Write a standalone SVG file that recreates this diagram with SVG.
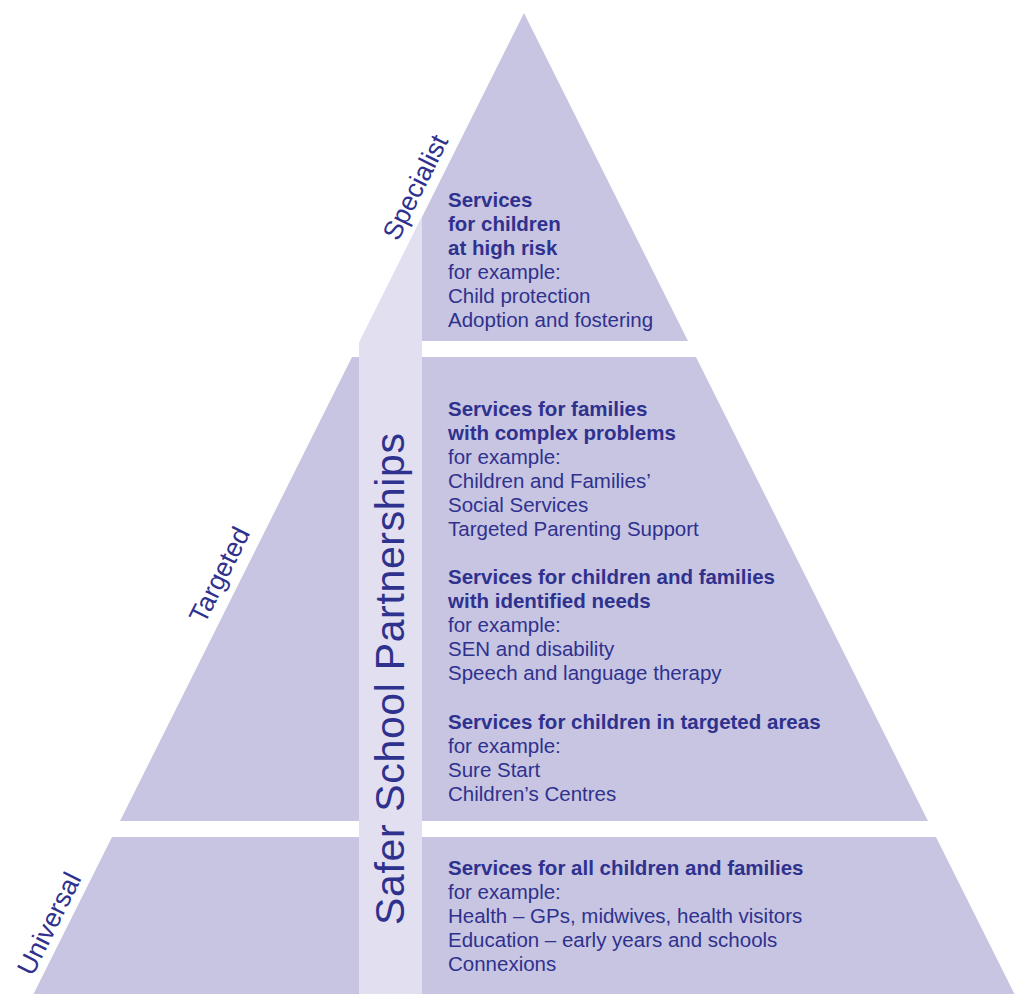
<svg xmlns="http://www.w3.org/2000/svg" width="1017" height="1001" viewBox="0 0 1017 1001">
  <style>
    .tier { fill: #c7c5e1; }
    .band { fill: #e1dff0; }
    text { font-family: "Liberation Sans", Arial, sans-serif; fill: #2f318e; }
    .b { font-size: 20.5px; font-weight: 700; }
    .r { font-size: 20.5px; font-weight: 400; }
    .lbl { font-size: 26.5px; font-weight: 400; }
    .ssp { font-size: 41px; font-weight: 400; }
  </style>
  <rect x="0" y="0" width="1017" height="1001" fill="#ffffff"/>

  <g id="tier-specialist">
    <polygon class="tier" points="524,13 688,341 360,341"/>
  </g>
  <g id="tier-targeted">
    <polygon class="tier" points="352,357 696,357 928,821 120,821"/>
  </g>
  <g id="tier-universal">
    <polygon class="tier" points="112,837 936,837 1014.5,994 33.5,994"/>
  </g>

  <g id="safer-school-partnerships">
    <polygon class="band" points="422,217 422,994 359,994 359,343"/>
    <text class="ssp" transform="translate(404,925) rotate(-90)" textLength="492" lengthAdjust="spacing">Safer School Partnerships</text>
  </g>

  <g id="label-specialist">
    <text class="lbl" transform="translate(398,242) rotate(-63.43)">Specialist</text>
  </g>
  <g id="label-targeted">
    <text class="lbl" transform="translate(204.5,625) rotate(-63.43)">Targeted</text>
  </g>
  <g id="label-universal">
    <text class="lbl" transform="translate(32.5,977) rotate(-63.43)">Universal</text>
  </g>

  <g id="text-specialist">
    <text class="b" x="448" y="207">Services</text>
    <text class="b" x="448" y="231">for children</text>
    <text class="b" x="448" y="255">at high risk</text>
    <text class="r" x="448" y="279">for example:</text>
    <text class="r" x="448" y="303">Child protection</text>
    <text class="r" x="448" y="327">Adoption and fostering</text>
  </g>

  <g id="text-complex">
    <text class="b" x="448" y="416">Services for families</text>
    <text class="b" x="448" y="440">with complex problems</text>
    <text class="r" x="448" y="464">for example:</text>
    <text class="r" x="448" y="488">Children and Families’</text>
    <text class="r" x="448" y="512">Social Services</text>
    <text class="r" x="448" y="536">Targeted Parenting Support</text>
  </g>

  <g id="text-identified">
    <text class="b" x="448" y="584">Services for children and families</text>
    <text class="b" x="448" y="608">with identified needs</text>
    <text class="r" x="448" y="632">for example:</text>
    <text class="r" x="448" y="656">SEN and disability</text>
    <text class="r" x="448" y="680">Speech and language therapy</text>
  </g>

  <g id="text-areas">
    <text class="b" x="448" y="729">Services for children in targeted areas</text>
    <text class="r" x="448" y="753">for example:</text>
    <text class="r" x="448" y="777">Sure Start</text>
    <text class="r" x="448" y="801">Children’s Centres</text>
  </g>

  <g id="text-universal">
    <text class="b" x="448" y="875">Services for all children and families</text>
    <text class="r" x="448" y="899">for example:</text>
    <text class="r" x="448" y="923">Health – GPs, midwives, health visitors</text>
    <text class="r" x="448" y="947">Education – early years and schools</text>
    <text class="r" x="448" y="971">Connexions</text>
  </g>

  <g id="connectors"/>
</svg>
